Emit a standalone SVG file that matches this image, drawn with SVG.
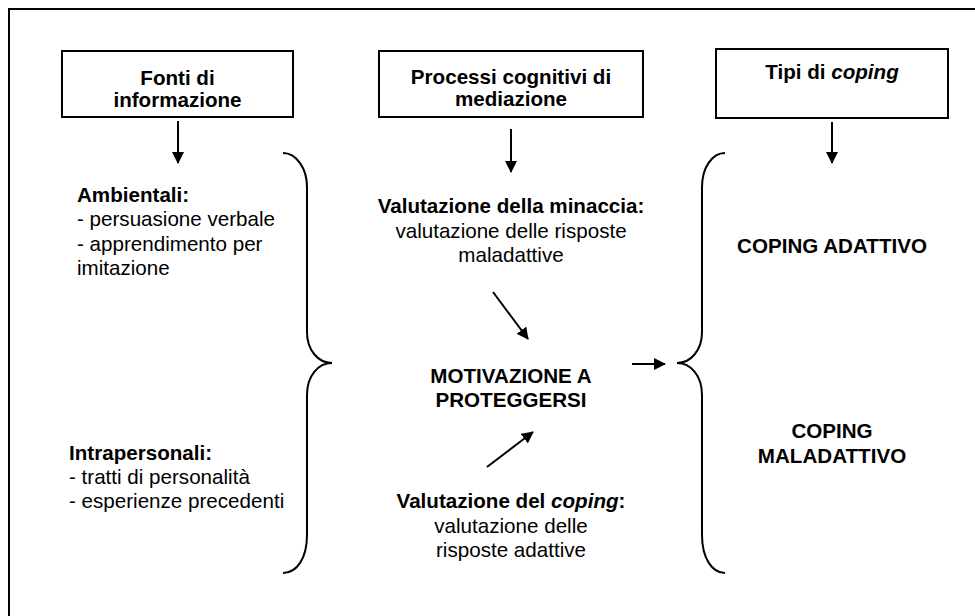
<svg xmlns="http://www.w3.org/2000/svg" width="975" height="616" viewBox="0 0 975 616">
<defs>
<marker id="ah" viewBox="0 0 12 12" refX="11" refY="6" markerWidth="12" markerHeight="12" markerUnits="userSpaceOnUse" orient="auto">
<path d="M0,0 L12,6 L0,12 Z" fill="#000"/>
</marker>
<style>
.box{fill:#fff;stroke:#000;stroke-width:2}
.ln{fill:none;stroke:#000;stroke-width:2}
.arr{fill:none;stroke:#000;stroke-width:2;marker-end:url(#ah)}
text{font-family:"Liberation Sans",Arial,sans-serif;font-size:20.6px;fill:#000}
.b{font-weight:bold}
.c{text-anchor:middle}
</style>
</defs>
<rect width="975" height="616" fill="#fff"/>
<path class="ln" d="M9,616 V9 H975"/>

<g id="box-fonti">
<rect class="box" x="62" y="51" width="231" height="66"/>
<text class="b c" x="177.5" y="85">Fonti di</text>
<text class="b c" x="177.5" y="107">informazione</text>
</g>
<g id="box-processi">
<rect class="box" x="379" y="51" width="264" height="66"/>
<text class="b c" x="511" y="84">Processi cognitivi di</text>
<text class="b c" x="511" y="106">mediazione</text>
</g>
<g id="box-tipi">
<rect class="box" x="716" y="49" width="232" height="69"/>
<text class="b c" x="832" y="79">Tipi di <tspan font-style="italic">coping</tspan></text>
</g>

<g id="fonti-ambientali">
<text x="77" y="202"><tspan class="b">Ambientali:</tspan><tspan x="77" dy="24.3">- persuasione verbale</tspan><tspan x="77" dy="24.3">- apprendimento per</tspan><tspan x="77" dy="24.3">imitazione</tspan></text>
</g>
<g id="fonti-intrapersonali">
<text x="69" y="460"><tspan class="b">Intrapersonali:</tspan><tspan x="69" dy="23.8">- tratti di personalità</tspan><tspan x="69" dy="23.8">- esperienze precedenti</tspan></text>
</g>

<g id="minaccia">
<text class="c" x="511" y="213"><tspan class="b">Valutazione della minaccia:</tspan><tspan x="511" dy="24.5">valutazione delle risposte</tspan><tspan x="511" dy="24.5">maladattive</tspan></text>
</g>
<g id="motivazione">
<text class="b c" x="511" y="383">MOTIVAZIONE A</text>
<text class="b c" x="511" y="407">PROTEGGERSI</text>
</g>
<g id="coping-val">
<text class="c" x="511" y="508"><tspan class="b">Valutazione del <tspan font-style="italic">coping</tspan>:</tspan><tspan x="511" dy="24.5">valutazione delle</tspan><tspan x="511" dy="24.5">risposte adattive</tspan></text>
</g>

<g id="coping-adattivo">
<text class="b c" x="832" y="253">COPING ADATTIVO</text>
</g>
<g id="coping-maladattivo">
<text class="b c" x="832" y="438">COPING</text>
<text class="b c" x="832" y="463">MALADATTIVO</text>
</g>

<g id="connectors">
<path class="arr" d="M178,121 V163"/>
<path class="arr" d="M511,129 V172"/>
<path class="arr" d="M832,122 V163"/>
<path class="arr" d="M493,292 L528,339"/>
<path class="arr" d="M487,467 L533,432"/>
<path class="arr" d="M632,364 H665"/>
<path class="ln" d="M283,153 C296,153 307,168 307,187 L307,332 C307,350 318,363 332,363 C318,363 307,376 307,395 L307,535 C307,558 297,573 283,573"/>
<path class="ln" d="M725,153 C712,153 702,168 702,187 L702,332 C702,350 691,363 677,363 C691,363 702,376 702,395 L702,535 C702,558 712,573 725,573"/>
</g>
</svg>
